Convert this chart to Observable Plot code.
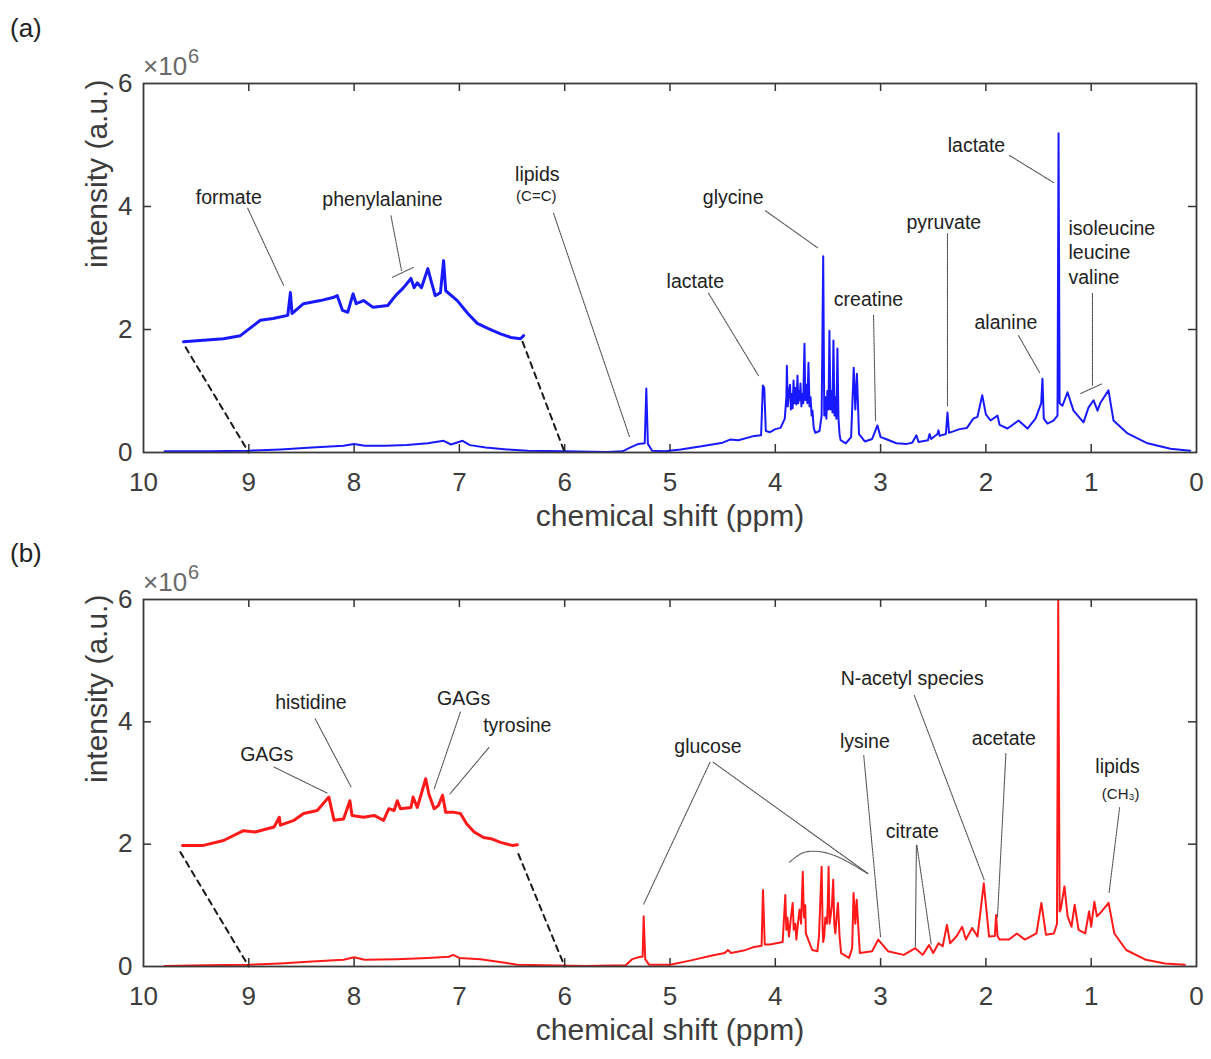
<!DOCTYPE html>
<html>
<head>
<meta charset="utf-8">
<script src="https://cdn.jsdelivr.net/npm/d3@7"></script>
<script src="https://cdn.jsdelivr.net/npm/@observablehq/plot@0.6"></script>
<style>
  body { margin: 0; background: #fff; font-family: "Liberation Sans", Arial, sans-serif; }
  #fig { position: relative; width: 1211px; height: 1059px; overflow: hidden; }
  .panel { position: absolute; left: 0; }
  .tag { position: absolute; font-size: 26px; line-height: 1; color: #222; }
  .exp { position: absolute; font-size: 26px; line-height: 1; color: #6a6a6a; white-space: nowrap; }
  .exp span { display: inline-block; position: relative; top: -12px; font-size: 20px; margin-left: 1px; }
</style>
</head>
<body>
<div id="fig">
  <div class="tag" style="left:10px;top:15px">(a)</div>
  <div class="tag" style="left:10px;top:540px">(b)</div>
  <div class="exp" style="left:143px;top:53px">×10<span>6</span></div>
  <div class="exp" style="left:143px;top:569px">×10<span>6</span></div>
</div>
<script>
// Axis ticks (ppm and intensity ×10^6)
const xTicks = [10, 9, 8, 7, 6, 5, 4, 3, 2, 1, 0];
const yTicks = [0, 2, 4, 6];

// (a) spectrum: [chemical shift ppm, intensity ×10^6]
const specA = [[9.80,0.02],[9.40,0.02],[9.00,0.03],[8.70,0.05],[8.40,0.08],[8.10,0.11],[8.00,0.14],[7.90,0.11],[7.70,0.11],[7.50,0.12],[7.30,0.15],[7.15,0.19],[7.08,0.13],[6.97,0.19],[6.90,0.12],[6.75,0.08],[6.55,0.05],[6.35,0.03],[6.00,0.02],[5.60,0.01],[5.45,0.02],[5.38,0.08],[5.30,0.14],[5.24,0.15],[5.225,1.04],[5.21,0.14],[5.17,0.03],[5.05,0.02],[4.90,0.05],[4.70,0.10],[4.50,0.16],[4.43,0.21],[4.35,0.20],[4.20,0.27],[4.135,0.28],[4.118,1.09],[4.105,1.05],[4.09,0.35],[4.05,0.33],[4.00,0.38],[3.95,0.40],[3.91,0.55],[3.895,0.90],[3.89,1.41],[3.882,0.75],[3.87,1.00],[3.86,1.10],[3.852,0.70],[3.845,0.95],[3.835,0.72],[3.827,1.17],[3.818,0.80],[3.81,1.05],[3.80,0.78],[3.789,1.25],[3.782,0.80],[3.775,1.00],[3.768,0.85],[3.761,1.12],[3.752,0.75],[3.745,0.95],[3.735,0.80],[3.723,1.77],[3.715,0.85],[3.705,1.10],[3.695,0.80],[3.685,1.46],[3.675,0.75],[3.665,0.90],[3.655,0.60],[3.647,0.68],[3.635,0.40],[3.62,0.32],[3.58,0.35],[3.56,0.60],[3.545,3.19],[3.535,0.60],[3.525,0.90],[3.515,0.55],[3.505,1.00],[3.495,0.70],[3.486,1.98],[3.476,0.70],[3.466,1.00],[3.457,0.65],[3.448,1.82],[3.438,0.60],[3.428,0.90],[3.42,0.55],[3.41,1.69],[3.40,0.55],[3.39,0.30],[3.38,0.20],[3.33,0.15],[3.28,0.25],[3.255,1.38],[3.24,0.70],[3.225,1.28],[3.205,0.30],[3.15,0.18],[3.08,0.22],[3.03,0.44],[3.00,0.25],[2.95,0.22],[2.85,0.15],[2.75,0.14],[2.70,0.16],[2.66,0.28],[2.64,0.17],[2.55,0.20],[2.535,0.30],[2.52,0.22],[2.46,0.30],[2.45,0.36],[2.44,0.27],[2.38,0.30],[2.365,0.65],[2.35,0.32],[2.25,0.38],[2.18,0.40],[2.12,0.55],[2.08,0.58],[2.035,0.93],[2.00,0.62],[1.956,0.52],[1.89,0.60],[1.87,0.45],[1.795,0.39],[1.69,0.52],[1.605,0.39],[1.529,0.55],[1.475,0.80],[1.463,1.20],[1.45,0.55],[1.415,0.47],[1.358,0.52],[1.32,0.60],[1.31,5.19],[1.30,0.80],[1.273,0.76],[1.225,0.98],[1.168,0.68],[1.073,0.49],[1.026,0.73],[0.978,0.85],[0.94,0.68],[0.912,0.81],[0.836,1.01],[0.788,0.52],[0.655,0.31],[0.465,0.15],[0.247,0.06],[0.06,0.03]];

// (a) enlarged aromatic region (9–6 ppm), drawn above the baseline
const insetA = [[9.62,1.80],[9.24,1.85],[9.08,1.90],[8.89,2.15],[8.77,2.18],[8.63,2.23],[8.605,2.60],[8.59,2.26],[8.48,2.42],[8.32,2.47],[8.20,2.52],[8.16,2.55],[8.11,2.31],[8.06,2.28],[8.01,2.58],[7.98,2.42],[7.91,2.47],[7.82,2.36],[7.68,2.39],[7.63,2.50],[7.59,2.58],[7.53,2.68],[7.46,2.83],[7.43,2.68],[7.40,2.76],[7.36,2.68],[7.30,2.99],[7.27,2.80],[7.23,2.55],[7.18,2.60],[7.15,3.12],[7.13,2.63],[7.02,2.47],[6.92,2.26],[6.83,2.10],[6.73,2.02],[6.61,1.93],[6.51,1.87],[6.42,1.85],[6.39,1.90]];

// (b) spectrum
const specB = [[9.80,0.01],[9.40,0.02],[9.00,0.03],[8.70,0.05],[8.40,0.08],[8.10,0.11],[8.00,0.15],[7.90,0.11],[7.60,0.12],[7.30,0.14],[7.10,0.16],[7.06,0.19],[7.00,0.14],[6.80,0.12],[6.60,0.07],[6.45,0.03],[6.20,0.02],[5.80,0.01],[5.42,0.02],[5.36,0.12],[5.28,0.16],[5.26,0.16],[5.25,0.82],[5.235,0.12],[5.20,0.03],[5.00,0.03],[4.80,0.10],[4.60,0.18],[4.48,0.22],[4.45,0.27],[4.42,0.22],[4.30,0.26],[4.20,0.32],[4.13,0.34],[4.117,1.25],[4.10,0.36],[4.05,0.36],[3.93,0.40],[3.905,1.17],[3.895,0.60],[3.885,0.80],[3.87,0.49],[3.855,0.75],[3.835,1.04],[3.825,0.60],[3.81,0.70],[3.80,0.44],[3.785,0.70],[3.77,0.93],[3.755,0.70],[3.739,1.55],[3.73,0.90],[3.725,0.80],[3.715,1.00],[3.71,0.54],[3.65,0.27],[3.60,0.25],[3.585,0.50],[3.56,1.63],[3.55,0.60],[3.545,0.40],[3.535,0.50],[3.525,0.80],[3.51,0.70],[3.502,1.00],[3.494,1.63],[3.485,0.70],[3.475,0.82],[3.462,1.00],[3.45,1.42],[3.44,0.70],[3.43,0.54],[3.418,0.80],[3.405,1.04],[3.39,0.50],[3.375,0.22],[3.30,0.14],[3.27,0.30],[3.257,1.20],[3.24,0.70],[3.227,1.09],[3.197,0.22],[3.08,0.25],[3.023,0.44],[2.93,0.25],[2.78,0.19],[2.67,0.30],[2.60,0.19],[2.54,0.35],[2.50,0.22],[2.45,0.38],[2.41,0.33],[2.37,0.68],[2.34,0.38],[2.28,0.49],[2.225,0.65],[2.19,0.44],[2.13,0.63],[2.08,0.49],[2.02,1.36],[1.97,0.49],[1.915,0.50],[1.903,0.84],[1.89,0.50],[1.87,0.44],[1.78,0.44],[1.706,0.54],[1.63,0.44],[1.52,0.54],[1.473,1.04],[1.43,0.52],[1.354,0.54],[1.325,0.70],[1.313,6.00],[1.30,0.90],[1.29,0.93],[1.254,1.31],[1.224,0.82],[1.187,0.65],[1.157,1.01],[1.12,0.60],[1.057,0.54],[1.02,0.90],[1.00,0.65],[0.97,1.06],[0.946,0.82],[0.916,0.87],[0.835,1.04],[0.78,0.54],[0.668,0.27],[0.48,0.11],[0.30,0.05],[0.11,0.03]];

// (b) enlarged aromatic region
const insetB = [[9.63,1.98],[9.43,1.98],[9.24,2.06],[9.05,2.22],[8.94,2.20],[8.76,2.28],[8.71,2.44],[8.70,2.31],[8.57,2.39],[8.48,2.50],[8.35,2.55],[8.24,2.77],[8.19,2.39],[8.10,2.41],[8.04,2.71],[8.02,2.47],[7.91,2.44],[7.81,2.47],[7.72,2.39],[7.67,2.58],[7.62,2.55],[7.59,2.71],[7.56,2.58],[7.46,2.60],[7.44,2.77],[7.40,2.60],[7.32,3.07],[7.29,2.82],[7.24,2.58],[7.20,2.63],[7.16,2.80],[7.13,2.52],[7.05,2.52],[6.99,2.50],[6.93,2.33],[6.86,2.20],[6.77,2.11],[6.70,2.09],[6.61,2.03],[6.50,1.98],[6.45,1.99]];

// Dashed guides from the enlarged trace down to the 9 and 6 ppm baseline
const guidesA = [[9.60,1.71,9.0,0],[6.40,1.80,6.0,0]];
const guidesB = [[9.65,1.87,9.0,0],[6.44,1.84,6.0,0]];

// Peak assignments: [text, ppm, intensity]
const namesA = [["formate",9.19,4.15],["phenylalanine",7.73,4.11],["lipids",6.26,4.52],["glycine",4.40,4.15],["lactate",4.76,2.78],["creatine",3.115,2.49],["pyruvate",2.40,3.74],["alanine",1.81,2.11],["lactate",2.09,4.99]];
const subNamesA = [["(C=C)",6.27,4.16]];
const groupNamesA = [["isoleucine\nleucine\nvaline",1.216,3.27]];
const leadersA = [[9.01,3.97,8.67,2.72],[7.65,3.85,7.55,2.96],[7.635,2.85,7.436,3.01],[6.106,3.89,5.385,0.26],[4.093,3.93,3.60,3.33],[4.634,2.59,4.16,1.25],[3.067,2.23,3.048,0.52],[2.365,3.56,2.365,0.76],[1.69,1.90,1.49,1.30],[1.776,4.83,1.358,4.39],[0.988,2.59,0.988,1.09],[1.10,0.96,0.893,1.12]];

const namesB = [["GAGs",8.83,3.46],["histidine",8.41,4.32],["GAGs",6.96,4.38],["tyrosine",6.45,3.94],["glucose",4.64,3.59],["lysine",3.15,3.68],["citrate",2.70,2.21],["N-acetyl species",2.70,4.71],["acetate",1.83,3.72],["lipids",0.75,3.26]];
const subNamesB = [["(CH₃)",0.72,2.82]];
const groupNamesB = [];
const leadersB = [[8.76,3.26,8.25,2.83],[8.37,4.05,8.03,2.94],[6.99,4.16,7.24,2.90],[6.72,3.58,7.09,2.82],[4.62,3.34,5.25,1.02],[4.59,3.34,3.12,1.52],[3.16,3.45,3.00,0.48],[2.66,1.98,2.67,0.32],[2.655,1.98,2.52,0.37],[2.68,4.43,2.015,1.41],[1.81,3.48,1.89,0.81],[0.73,2.60,0.83,1.21]];
// bracket over the glucose multiplets
const bracketB = [[3.865,1.705],[3.736,1.86],[3.588,1.88],[3.403,1.79],[3.124,1.52]];

const FONT = "Liberation Sans, Arial, sans-serif";

function segments(list) {
  return list.flatMap((s, i) => [{id: i, ppm: s[0], v: s[1]}, {id: i, ppm: s[2], v: s[3]}]);
}
function points(list) {
  return list.map(d => ({ppm: d[0], v: d[1]}));
}
function named(list) {
  return list.map(d => ({text: d[0], ppm: d[1], v: d[2]}));
}

function panel(o) {
  const tyLen = 0.13, txLen = 0.076;
  const inner = xTicks.slice(1, -1);
  const innerY = yTicks.slice(1, -1);
  const marks = [
    // inward ticks on all four sides
    Plot.ruleX(inner, {x: d => d, y1: 0, y2: tyLen, stroke: "#333", strokeWidth: 1.5}),
    Plot.ruleX(inner, {x: d => d, y1: 6 - tyLen, y2: 6, stroke: "#333", strokeWidth: 1.5}),
    Plot.ruleY(innerY, {y: d => d, x1: 10, x2: 10 - txLen, stroke: "#333", strokeWidth: 1.5}),
    Plot.ruleY(innerY, {y: d => d, x1: 0, x2: txLen, stroke: "#333", strokeWidth: 1.5}),
    // spectrum and enlarged region
    Plot.line(points(o.spec), {x: "ppm", y: "v", stroke: o.color, strokeWidth: 2, strokeOpacity: 0.9, clip: true}),
    Plot.line(points(o.inset), {x: "ppm", y: "v", stroke: o.color, strokeWidth: 3, strokeOpacity: 0.9}),
    Plot.line(segments(o.guides), {x: "ppm", y: "v", z: "id", stroke: "#1a1a1a", strokeWidth: 2, strokeDasharray: "6,5"}),
    // annotation leaders
    Plot.line(segments(o.leaders), {x: "ppm", y: "v", z: "id", stroke: "#555", strokeWidth: 1.1, strokeDasharray: "2,1"}),
    Plot.text(named(o.names), {x: "ppm", y: "v", text: "text", fontSize: 19.5, fill: "#222", fontFamily: FONT}),
    Plot.text(named(o.subNames), {x: "ppm", y: "v", text: "text", fontSize: 15, fill: "#222", fontFamily: FONT}),
    Plot.text(named(o.groupNames), {x: "ppm", y: "v", text: "text", fontSize: 19.5, lineHeight: 1.27, textAnchor: "start", fill: "#222", fontFamily: FONT}),
    Plot.frame({stroke: "#3a3a3a", strokeWidth: 1.8}),
    Plot.axisX({ticks: xTicks, tickSize: 0, tickPadding: 20, fontSize: 26, label: null, tickFormat: d => String(d)}),
    Plot.axisY({ticks: yTicks, tickSize: 0, tickPadding: 11, fontSize: 26, label: null, tickFormat: d => String(d)}),
    Plot.text(["chemical shift (ppm)"], {frameAnchor: "bottom", dy: 73, text: d => d, fontSize: 30, fill: "#3c3c3c"}),
    Plot.text(["intensity (a.u.)"], {frameAnchor: "left", dx: -46, rotate: -90, text: d => d, fontSize: 30, fill: "#3c3c3c"})
  ];
  if (o.bracket) {
    marks.splice(8, 0, Plot.line(points(o.bracket), {x: "ppm", y: "v", curve: "catmull-rom", stroke: "#555", strokeWidth: 1.1, strokeDasharray: "2,1"}));
  }
  return Plot.plot({
    width: 1211,
    height: o.height,
    marginLeft: 143,
    marginRight: 15,
    marginTop: o.top,
    marginBottom: o.bottom,
    style: {fontFamily: FONT, color: "#3c3c3c", background: "transparent", overflow: "visible"},
    x: {domain: [10, 0]},
    y: {domain: [0, 6]},
    marks
  });
}

const fig = document.getElementById("fig");

const a = panel({spec: specA, inset: insetA, guides: guidesA, names: namesA, subNames: subNamesA, groupNames: groupNamesA, leaders: leadersA, color: "#0000ff", height: 540, top: 83, bottom: 88});
a.classList.add("panel");
a.style.top = "0px";
fig.appendChild(a);

const b = panel({spec: specB, inset: insetB, guides: guidesB, names: namesB, subNames: subNamesB, groupNames: groupNamesB, leaders: leadersB, bracket: bracketB, color: "#ff0000", height: 519, top: 59, bottom: 93});
b.classList.add("panel");
b.style.top = "540px";
fig.appendChild(b);
</script>
</body>
</html>
